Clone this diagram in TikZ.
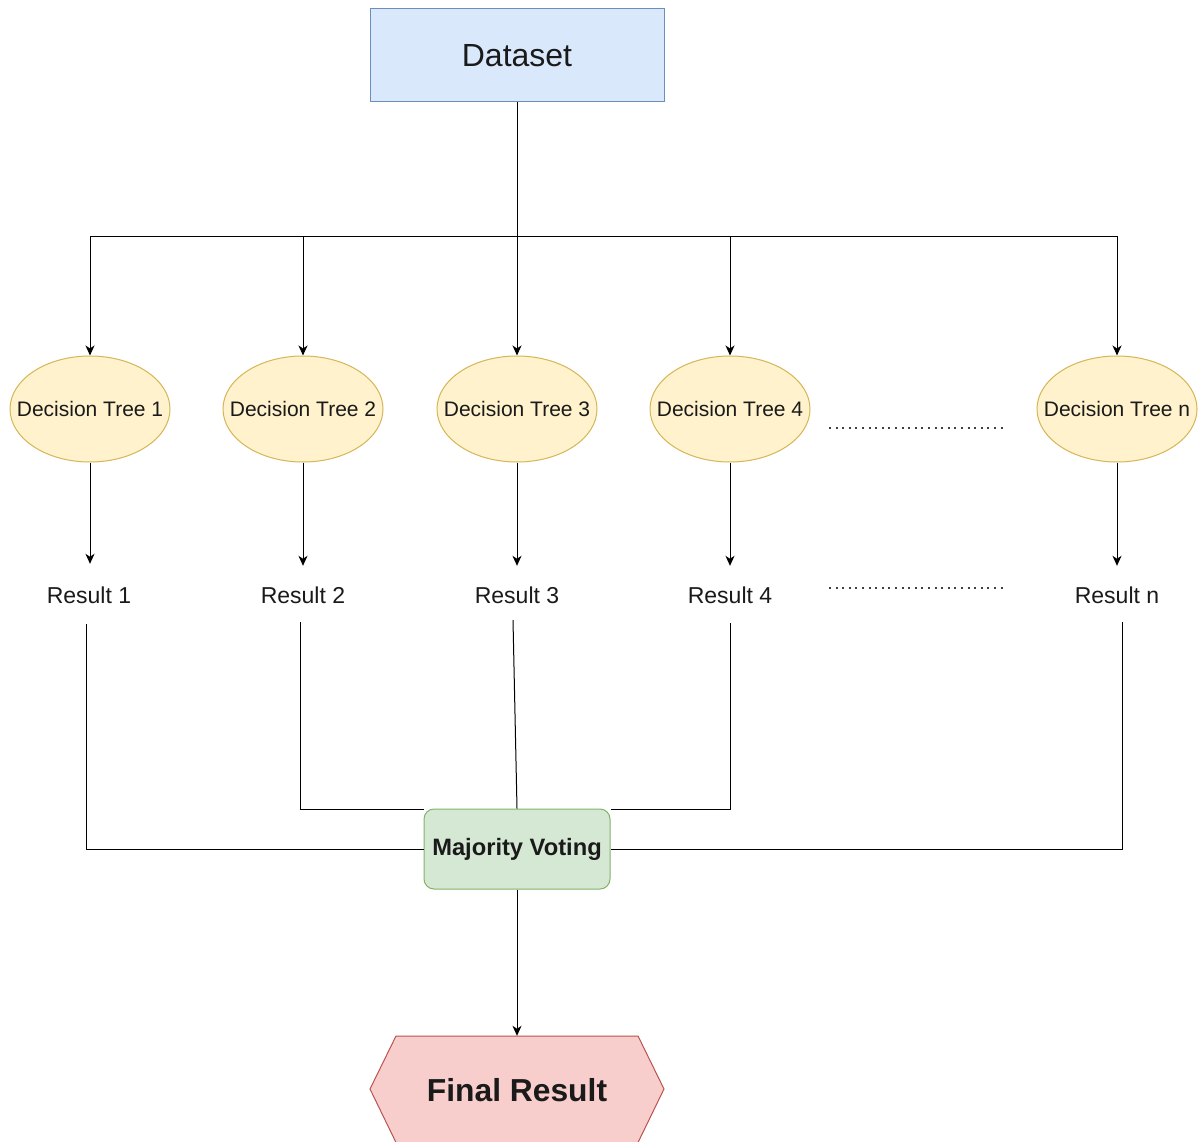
\documentclass[tikz,border=0pt]{standalone}
\usepackage{fontspec}
\setmainfont{Liberation Sans}
\usetikzlibrary{arrows.meta,shapes.geometric}
\definecolor{dsfill}{HTML}{DAE8FC}\definecolor{dsdraw}{HTML}{6C8EBF}
\definecolor{dtfill}{HTML}{FFF2CC}\definecolor{dtdraw}{HTML}{D6B656}
\definecolor{mvfill}{HTML}{D5E8D4}\definecolor{mvdraw}{HTML}{82B366}
\definecolor{frfill}{HTML}{F8CECC}\definecolor{frdraw}{HTML}{B85450}
\definecolor{txt}{HTML}{1A1A1A}
\newcommand{\dtlabel}[1]{\makebox[0pt][c]{\raisebox{-2pt}{#1}}}
\begin{document}
\begin{tikzpicture}[x=1pt,y=-1pt,
  dsbox/.style={draw=dsdraw,fill=dsfill,line width=1pt,minimum width=294pt,minimum height=93pt,inner sep=0pt,font=\fontsize{32}{38}\selectfont,text=txt},
  dtell/.style={ellipse,draw=dtdraw,fill=dtfill,line width=1pt,minimum width=160pt,minimum height=106pt,inner sep=0pt,font=\fontsize{21}{25}\selectfont,text=txt},
  reslbl/.style={minimum height=58pt,inner sep=0pt,font=\fontsize{23}{27}\selectfont,text=txt},
  mvbox/.style={draw=mvdraw,fill=mvfill,line width=1pt,rounded corners=10pt,minimum width=186pt,minimum height=80pt,inner sep=0pt,font=\bfseries\fontsize{23.7}{28}\selectfont,text=txt},
  frbox/.style={minimum width=294pt,minimum height=106pt,inner sep=0pt,font=\bfseries\fontsize{31.8}{38}\selectfont,text=txt},
  conn/.style={line width=1pt,draw=black},
  arr/.style={conn,-{Stealth[length=10pt,width=9pt,inset=3pt]}},
  dots/.style={draw=black!75,line width=1.9pt,dash pattern=on 1.9pt off 4.7pt}]
\useasboundingbox (0,0) rectangle (1201,1142);
\fill[white] (0,0) rectangle (1201,1142);

\node[dsbox] (ds) at (517,55.5) {Dataset};
\coordinate (bus) at (517,236);

\node[dtell] (d1) at (90,409) {\dtlabel{Decision Tree 1}};
\node[dtell] (d2) at (303,409) {\dtlabel{Decision Tree 2}};
\node[dtell] (d3) at (517,409) {\dtlabel{Decision Tree 3}};
\node[dtell] (d4) at (730,409) {\dtlabel{Decision Tree 4}};
\node[dtell] (dn) at (1117,409) {\dtlabel{Decision Tree n}};

\node[reslbl] (r1) at (89,595) {Result 1};
\node[reslbl] (r2) at (303,595) {Result 2};
\node[reslbl] (r3) at (517,595) {Result 3};
\node[reslbl] (r4) at (730,595) {Result 4};
\node[reslbl] (rn) at (1117,595) {Result n};

\node[mvbox] (mv) at (517,849) {Majority Voting};
\node[frbox] (fr) at (517,1089) {};
\filldraw[fill=frfill,draw=frdraw,line width=1pt]
  (396,1036) -- (638,1036) -- (664,1089) -- (638,1142.5) -- (396,1142.5) -- (370,1089) -- cycle;
\node[font=\bfseries\fontsize{31.8}{38}\selectfont,text=txt] at ([yshift=-1pt]fr.center) {Final Result};

% dataset to trees
\draw[arr] (ds.south) -- (d3.north);
\draw[arr] (bus) -| (d1.north);
\draw[arr] (bus) -| (d2.north);
\draw[arr] (bus) -| (d4.north);
\draw[arr] (bus) -| (dn.north);

% trees to results
\draw[arr] (d1.south) -- ([yshift=2pt]d1.south |- r1.north);
\draw[arr] (d2.south) -- (r2.north);
\draw[arr] (d3.south) -- (r3.north);
\draw[arr] (d4.south) -- (r4.north);
\draw[arr] (dn.south) -- (rn.north);

% results to majority voting
\draw[conn] ([xshift=-3pt]r1.south) |- (mv.west);
\draw[conn] ([xshift=-3pt,yshift=2pt]r2.south) |- ([yshift=-1pt]mv.north west);
\draw[conn] ([xshift=-4pt,yshift=4pt]r3.south) -- (mv.north);
\draw[conn] ([yshift=1pt]r4.south) |- ([yshift=-1pt]mv.north east);
\draw[conn] ([xshift=5pt,yshift=2pt]rn.south) |- (mv.east);

% majority voting to final
\draw[arr] (mv.south) -- (fr.north);

% ellipsis dots
\draw[dots] (829,428) -- (1005,428);
\draw[dots] (829,588) -- (1005,588);
\end{tikzpicture}
\end{document}
